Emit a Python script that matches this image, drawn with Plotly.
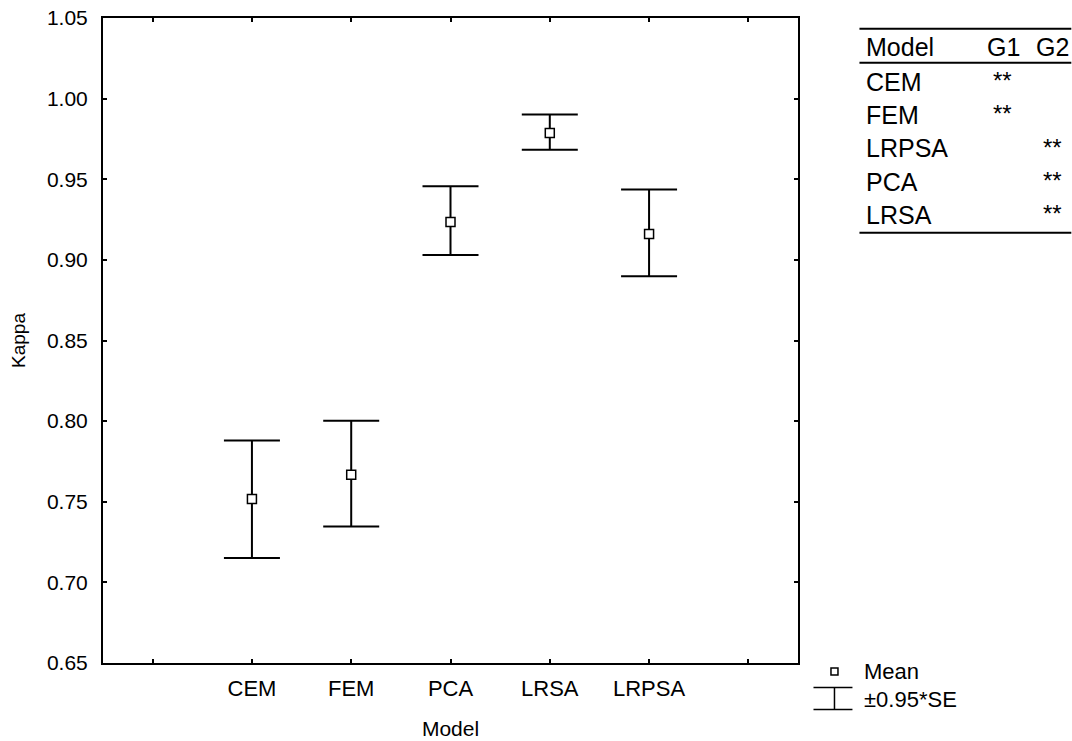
import plotly.graph_objects as go

models = ["CEM", "FEM", "PCA", "LRSA", "LRPSA"]
means = [0.7517, 0.7668, 0.9235, 0.9787, 0.9160]
upper = [0.7880, 0.8003, 0.9456, 0.9902, 0.9437]
lower = [0.7151, 0.7347, 0.9030, 0.9683, 0.8898]

table_models = ["CEM", "FEM", "LRPSA", "PCA", "LRSA"]
g1 = ["**", "**", "", "", ""]
g2 = ["", "", "**", "**", "**"]

W, H = 1072, 741
L, R, T, B = 103, 798.5, 18.3, 663.5
FONT = "Liberation Sans, Arial, sans-serif"


def px(x):
    return (x - L) / (R - L)


def py(y):
    return (B - y) / (B - T)


xpos = list(range(len(models)))
fig = go.Figure()
fig.add_trace(go.Scatter(
    x=xpos, y=means, mode="markers",
    marker=dict(symbol="square", size=9, color="white",
                line=dict(color="black", width=1.5)),
    error_y=dict(type="data", symmetric=False,
                 array=[u - m for u, m in zip(upper, means)],
                 arrayminus=[m - l for m, l in zip(means, lower)],
                 color="black", thickness=2, width=28),
    showlegend=False,
))

fig.update_xaxes(range=[-1.5, len(models) + 0.5],
                 tickvals=list(range(-1, len(models) + 1)),
                 ticktext=[""] + models + [""],
                 ticks="inside", ticklen=4, tickwidth=1.5, tickcolor="black",
                 showline=True, linecolor="black", linewidth=2, mirror="ticks",
                 showgrid=False, zeroline=False, ticklabelstandoff=5,
                 automargin=False,
                 tickfont=dict(family=FONT, size=22, color="black"),
                 title=dict(text="Model", font=dict(family=FONT, size=21, color="black"),
                            standoff=21))
fig.update_yaxes(range=[0.65, 1.05], tickvals=[0.65 + 0.05 * i for i in range(9)],
                 tickformat=".2f",
                 ticks="inside", ticklen=4, tickwidth=1.5, tickcolor="black",
                 showline=True, linecolor="black", linewidth=2, mirror="ticks",
                 showgrid=False, zeroline=False, ticklabelstandoff=9,
                 automargin=False,
                 tickfont=dict(family=FONT, size=21, color="black"),
                 title=dict(text="Kappa", font=dict(family=FONT, size=19, color="black"),
                            standoff=16))

annotations = []
shapes = []

# Table
ann_font = dict(family=FONT, size=25, color="black")
annotations.append(dict(x=px(865), y=py(47), xref="paper", yref="paper", text="Model",
                        showarrow=False, xanchor="left", yanchor="middle", font=ann_font))
annotations.append(dict(x=px(986), y=py(47), xref="paper", yref="paper", text="G1",
                        showarrow=False, xanchor="left", yanchor="middle", font=ann_font))
annotations.append(dict(x=px(1035), y=py(47), xref="paper", yref="paper", text="G2",
                        showarrow=False, xanchor="left", yanchor="middle", font=ann_font))
for i, (m, a, b) in enumerate(zip(table_models, g1, g2)):
    yc = 82 + 33.3 * i
    annotations.append(dict(x=px(865), y=py(yc), xref="paper", yref="paper", text=m,
                            showarrow=False, xanchor="left", yanchor="middle", font=ann_font))
    if a:
        annotations.append(dict(x=px(1003), y=py(yc - 1), xref="paper", yref="paper", text=a,
                                showarrow=False, xanchor="center", yanchor="middle",
                                font=dict(family=FONT, size=24, color="black")))
    if b:
        annotations.append(dict(x=px(1053), y=py(yc - 1), xref="paper", yref="paper", text=b,
                                showarrow=False, xanchor="center", yanchor="middle",
                                font=dict(family=FONT, size=24, color="black")))
for yl in (29, 63, 233):
    shapes.append(dict(type="line", xref="paper", yref="paper",
                       x0=px(860), x1=px(1072), y0=py(yl), y1=py(yl),
                       line=dict(color="black", width=2)))

# Legend
shapes.append(dict(type="rect", xref="paper", yref="paper",
                   x0=px(831.5), x1=px(838.5), y0=py(675.5), y1=py(668.5),
                   line=dict(color="black", width=1.5), fillcolor="white"))
for yl in (688, 710):
    shapes.append(dict(type="line", xref="paper", yref="paper",
                       x0=px(814), x1=px(853), y0=py(yl), y1=py(yl),
                       line=dict(color="black", width=1.5)))
shapes.append(dict(type="line", xref="paper", yref="paper",
                   x0=px(835), x1=px(835), y0=py(688), y1=py(710),
                   line=dict(color="black", width=1.5)))
leg_font = dict(family=FONT, size=22, color="black")
annotations.append(dict(x=px(863), y=py(672), xref="paper", yref="paper", text="Mean",
                        showarrow=False, xanchor="left", yanchor="middle", font=leg_font))
annotations.append(dict(x=px(863), y=py(700), xref="paper", yref="paper", text="±0.95*SE",
                        showarrow=False, xanchor="left", yanchor="middle", font=leg_font))

fig.update_layout(width=W, height=H, autosize=False,
                  margin=dict(l=L, r=W - R, t=T, b=H - B, pad=0),
                  plot_bgcolor="white", paper_bgcolor="white",
                  annotations=annotations, shapes=shapes, showlegend=False)

fig.write_html("out.html", config={"displayModeBar": False})
